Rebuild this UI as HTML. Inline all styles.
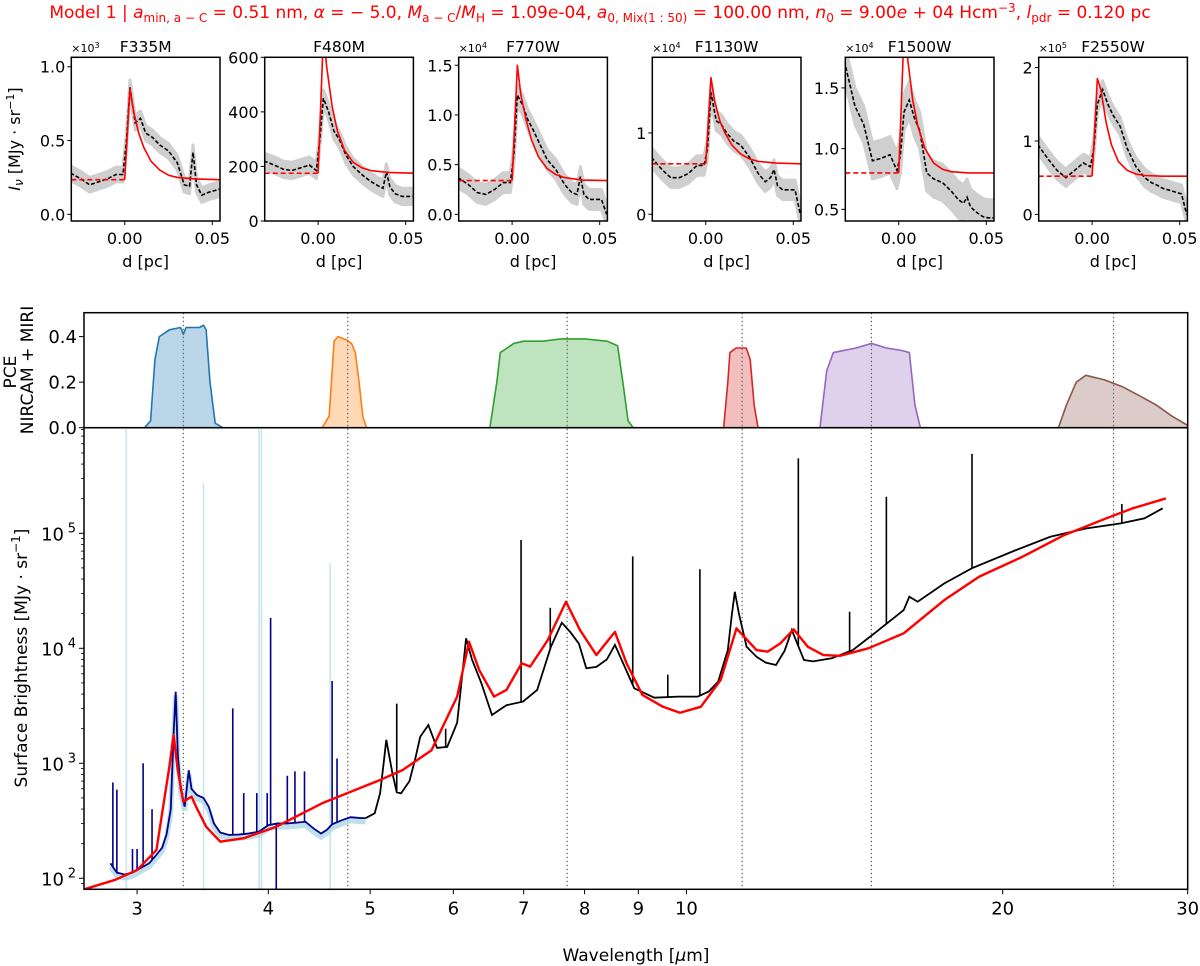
<!DOCTYPE html>
<html><head><meta charset="utf-8">
<style>
html,body{margin:0;padding:0;background:#fff;}
svg{display:block;font-family:"DejaVu Sans","Liberation Sans",sans-serif;}
</style></head>
<body>
<svg id="fig" width="1200" height="966" viewBox="0 0 1200 966" xmlns="http://www.w3.org/2000/svg">
<text x="600" y="18" text-anchor="middle" font-size="17" fill="#ff0000">Model 1 | <tspan font-style="italic">a</tspan><tspan font-size="12" dy="4">min, a − C</tspan><tspan dy="-4"> = 0.51 nm, </tspan><tspan font-style="italic">α</tspan> =  − 5.0, <tspan font-style="italic">M</tspan><tspan font-size="12" dy="4">a − C</tspan><tspan dy="-4">/</tspan><tspan font-style="italic">M</tspan><tspan font-size="12" dy="4">H</tspan><tspan dy="-4"> = 1.09e-04, </tspan><tspan font-style="italic">a</tspan><tspan font-size="12" dy="4">0, Mix(1 : 50)</tspan><tspan dy="-4"> = 100.00 nm, </tspan><tspan font-style="italic">n</tspan><tspan font-size="12" dy="4">0</tspan><tspan dy="-4"> = 9.00</tspan><tspan font-style="italic">e</tspan> + 04 Hcm<tspan font-size="12" dy="-6">−3</tspan><tspan dy="6">, </tspan><tspan font-style="italic">l</tspan><tspan font-size="12" dy="4">pdr</tspan><tspan dy="-4"> = 0.120 pc</tspan></text>
<text transform="translate(20,139) rotate(-90)" text-anchor="middle" font-size="16"><tspan font-style="italic">I</tspan><tspan font-size="12" dy="3" font-style="italic">ν</tspan><tspan dy="-3"> [MJy · sr</tspan><tspan font-size="11" dy="-6">−1</tspan><tspan dy="6">]</tspan></text>
<text transform="translate(16,372) rotate(-90)" text-anchor="middle" font-size="17">PCE</text>
<text transform="translate(33,370) rotate(-90)" text-anchor="middle" font-size="17">NIRCAM + MIRI</text>
<text transform="translate(27,658) rotate(-90)" text-anchor="middle" font-size="17">Surface Brightness  [MJy · sr<tspan font-size="12" dy="-7">−1</tspan><tspan dy="7">]</tspan></text>
<text x="636" y="961" text-anchor="middle" font-size="17">Wavelength [<tspan font-style="italic">μ</tspan>m]</text>
</svg>
<script>
// ---------- profile panel data ----------
const profD = [-0.031,-0.025,-0.02,-0.015,-0.01,-0.005,-0.001,0.001,0.003,0.006,0.009,0.012,0.016,0.02,0.025,0.03,0.034,0.037,0.039,0.041,0.044,0.048,0.051,0.054];
const obsF335M = [0.28,0.24,0.2,0.22,0.24,0.27,0.27,0.5,0.86,0.62,0.65,0.55,0.52,0.47,0.43,0.35,0.2,0.19,0.42,0.2,0.13,0.15,0.16,0.17];
const obsF480M = [220,205,190,185,195,205,185,300,450,400,330,300,240,200,170,145,130,120,180,125,100,90,90,90];
const obsF770W = [0.37,0.3,0.22,0.2,0.25,0.32,0.32,0.6,1.2,1.1,0.95,0.85,0.7,0.55,0.45,0.3,0.22,0.2,0.38,0.2,0.15,0.15,0.15,0.0];
const obsF1130W = [0.7,0.55,0.45,0.45,0.5,0.6,0.6,0.8,1.5,1.15,1.1,1.0,0.9,0.85,0.7,0.5,0.4,0.45,0.55,0.35,0.3,0.3,0.3,0.0];
const obsF1500W = [1.72,1.35,1.2,0.9,0.92,0.95,0.82,0.95,1.3,1.4,1.25,1.15,0.8,0.75,0.72,0.65,0.58,0.55,0.6,0.52,0.48,0.44,0.43,0.43];
const obsF2550W = [0.95,0.75,0.6,0.5,0.6,0.7,0.65,0.9,1.5,1.7,1.5,1.35,1.2,0.9,0.65,0.5,0.43,0.4,0.37,0.35,0.33,0.3,0.28,0.0];
const modelD = [0,0.003,0.005,0.008,0.011,0.015,0.02,0.025,0.03,0.04,0.055];
const modF335M = [0.235,0.85,0.7,0.55,0.45,0.36,0.3,0.265,0.25,0.24,0.235];
const modF480M = [175,680,560,420,330,260,215,195,185,178,175];
const modF770W = [0.34,1.5,1.2,0.95,0.75,0.58,0.46,0.4,0.37,0.345,0.34];
const modF1130W = [0.62,1.68,1.4,1.15,1.0,0.85,0.74,0.68,0.65,0.63,0.62];
const modF1500W = [0.8,1.95,1.75,1.4,1.18,1.0,0.88,0.83,0.81,0.8,0.8];
const modF2550W = [0.52,1.85,1.7,1.25,0.95,0.72,0.6,0.55,0.53,0.52,0.52];
const panelNames = ["F335M","F480M","F770W","F1130W","F1500W","F2550W"];
const panelOffsets = ["3","","4","4","4","5"];
const panelYTicks = [[0,0.5,1.0],[0,200,400,600],[0,0.5,1.0,1.5],[0,1],[0.5,1.0,1.5],[0,1,2]];
const panelYTickLabels = [["0.0","0.5","1.0"],["0","200","400","600"],["0.0","0.5","1.0","1.5"],["0","1"],["0.5","1.0","1.5"],["0","1","2"]];
const profXTicks = [0,0.05];
const profXTickLabels = ["0.00","0.05"];

// ---------- filter curves ----------
const f335Lam = [3.05,3.09,3.12,3.15,3.22,3.3,3.32,3.34,3.44,3.47,3.49,3.52,3.56,3.62];
const f335Pce = [0,0.03,0.3,0.4,0.43,0.44,0.41,0.44,0.44,0.45,0.43,0.2,0.02,0];
const f480Lam = [4.5,4.57,4.62,4.66,4.75,4.8,4.84,4.88,4.92,4.96];
const f480Pce = [0,0.05,0.38,0.4,0.385,0.37,0.33,0.2,0.05,0];
const f770Lam = [6.5,6.6,6.65,6.75,6.85,7.0,7.3,7.6,8.0,8.4,8.6,8.7,8.8,8.9];
const f770Pce = [0,0.2,0.33,0.35,0.37,0.38,0.38,0.39,0.39,0.38,0.36,0.2,0.03,0];
const f1130Lam = [10.85,10.95,11.0,11.15,11.4,11.5,11.6,11.7];
const f1130Pce = [0,0.2,0.33,0.35,0.35,0.3,0.1,0];
const f1500Lam = [13.4,13.6,13.8,14.5,15.0,15.5,16.0,16.3,16.5,16.7];
const f1500Pce = [0,0.25,0.33,0.35,0.37,0.35,0.34,0.33,0.1,0];
const f2550Lam = [22.6,23,23.5,24,25,26,27,28,29,30];
const f2550Pce = [0,0.1,0.2,0.23,0.21,0.18,0.14,0.1,0.05,0.01];
const filterCenters = [3.32,4.76,7.7,11.3,15.0,25.5];
const pceTicks = [0,0.2,0.4];
const pceTickLabels = ["0.0","0.2","0.4"];

// ---------- spectrum ----------
const nirLam = [2.83,2.87,2.92,2.97,3.02,3.08,3.13,3.17,3.2,3.23,3.25,3.265,3.28,3.30,3.33,3.36,3.38,3.42,3.47,3.51,3.55,3.6,3.67,3.75,3.83,3.92,4.0,4.08,4.17,4.26,4.34,4.42,4.49,4.55,4.6,4.7,4.79,4.88,4.95];
const nirVal = [135,112,108,112,122,135,160,185,240,400,1800,4200,1200,600,420,870,600,530,500,420,300,250,238,240,245,255,290,300,300,305,310,270,245,265,295,320,340,335,333];
const miriLam = [4.95,5.05,5.11,5.15,5.18,5.21,5.25,5.3,5.35,5.45,5.52,5.58,5.68,5.79,5.92,6.05,6.12,6.17,6.25,6.38,6.53,6.74,6.99,7.21,7.43,7.61,7.75,7.9,8.03,8.21,8.4,8.55,8.7,8.92,9.32,9.82,10.25,10.5,10.72,10.95,11.05,11.12,11.22,11.41,11.66,11.9,12.17,12.4,12.6,12.75,12.94,13.2,13.75,14.4,15.1,16.1,16.3,16.6,17.6,18.7,20.6,22.2,24.0,25.9,27.3,28.4];
const miriVal = [333,368,548,1000,1600,1200,818,560,548,700,1100,1700,2150,1360,1390,2250,6000,12200,8000,4970,2630,3200,3440,4340,10300,16700,13900,11000,6700,6900,8000,10700,7500,4490,3720,3800,3800,4200,5130,9660,20000,31000,20000,10300,8450,7500,7160,9500,14400,11000,7900,7700,8200,9660,13500,21500,28100,25400,36700,49700,71600,93300,110000,122000,135000,165000];
const modelLam = [2.67,2.86,3.0,3.13,3.22,3.25,3.28,3.32,3.38,3.42,3.49,3.6,3.79,4.07,4.5,5.11,5.37,5.72,6.05,6.21,6.35,6.56,6.74,6.97,7.1,7.38,7.68,7.92,8.21,8.55,8.77,9.08,9.5,9.86,10.32,10.78,11.16,11.66,11.95,12.28,12.65,13.05,13.5,14.0,14.9,16.1,17.6,19.0,20.9,22.9,25.1,26.6,28.6];
const modelVal = [80,97,118,176,934,1760,875,463,513,406,281,208,223,281,449,716,875,1300,3800,11400,6470,3800,4340,7410,6930,11800,25400,14400,8740,13900,7410,3930,3100,2750,3100,5300,14900,9660,9350,11000,14600,10300,8740,8600,10000,13500,26300,42000,62700,96700,135000,165000,201000];
const nirLineLam = [2.845,2.87,2.97,3.0,3.04,3.1,3.7,3.79,3.9,3.99,4.02,4.17,4.24,4.33,4.6,4.65];
const nirLineVal = [680,590,180,180,1000,400,3000,550,550,550,18400,780,850,850,5200,1100];
const miriLineLam = [5.3,5.55,5.9,6.96,7.42,8.89,9.6,10.3,12.78,14.3,15.5,18.7,25.97];
const miriLineVal = [3300,1400,2000,87500,22500,63000,5900,48700,448000,20800,208000,490000,180000];
const errLineLam = [2.93,3.47,3.92,3.94,4.58];
const errLineVal = [800000,270000,800000,800000,55000];
const specXTicks = [3,4,5,6,7,8,9,10,20,30];
const specYTicks = [100,1000,10000,100000];
const specYTickExp = ["2","3","4","5"];

const NS = "http://www.w3.org/2000/svg";
const svg = document.getElementById('fig');
function el(tag, parent, attrs){
  const e = document.createElementNS(NS, tag);
  for (const k in attrs) e.setAttribute(k, attrs[k]);
  parent.appendChild(e);
  return e;
}
function pts(xs, ys){ return xs.map((x,i)=>x.toFixed(2)+','+ys[i].toFixed(2)).join(' '); }

// ---------- profile panels ----------
const obsAll = [obsF335M,obsF480M,obsF770W,obsF1130W,obsF1500W,obsF2550W];
const modAll = [modF335M,modF480M,modF770W,modF1130W,modF1500W,modF2550W];
const panelLeft = [71.3,264.7,458.7,652.3,845.3,1038.7];
const panelYLo = [-0.045,0,-0.067,-0.083,0.404,-0.09];
const panelYHi = [1.064,600,1.58,1.93,1.752,2.14];
const bandHalf = [0.05,30,0.1,0.12,0.15,0.12];
const PT = 57.3, PB = 221, PW = 148.7, DLO = -0.0305, DHI = 0.0544;
const defs = el('defs', svg, {});
for (let p=0;p<6;p++){
  const L = panelLeft[p];
  const xs = d => L + (d-DLO)/(DHI-DLO)*PW;
  const ys = v => PB - (v-panelYLo[p])/(panelYHi[p]-panelYLo[p])*(PB-PT);
  const cp = el('clipPath', defs, {id:'clip'+p});
  el('rect', cp, {x:L, y:PT, width:PW, height:PB-PT});
  const g = el('g', svg, {});
  
  
  const pg = el('g', g, {'clip-path':'url(#clip'+p+')'});
  const obs = obsAll[p];
  const up = obs.map(v=>ys(v+bandHalf[p])), dn = obs.map(v=>ys(v-bandHalf[p]));
  const xsArr = profD.map(xs);
  const band = el('polygon', pg, {points: pts(xsArr, up)+' '+pts(xsArr.slice().reverse(), dn.slice().reverse()), fill:'#cfcfcf', stroke:'#cfcfcf', 'stroke-width':3, 'stroke-linejoin':'round'});
  
  
  const ol = el('polyline', pg, {points: pts(xsArr, obs.map(ys)), fill:'none', stroke:'#000', 'stroke-width':1.6, 'stroke-dasharray':'4,2'});
  
  
  const mod = modAll[p];
  const md = el('line', pg, {x1:xs(DLO), y1:ys(mod[0]), x2:xs(0), y2:ys(mod[0]), stroke:'#ff0000', 'stroke-width':1.6, 'stroke-dasharray':'5,3'});
  
  
  const ml = el('polyline', pg, {points: pts(modelD.map(xs), mod.map(ys)), fill:'none', stroke:'#ff0000', 'stroke-width':1.6, 'stroke-linejoin':'round'});
  
  
  const fr = el('rect', g, {x:L, y:PT, width:PW, height:PB-PT, fill:'none', stroke:'#000', 'stroke-width':1.5});
  
  
  profXTicks.forEach((t,i)=>{
    el('line', g, {x1:xs(t), x2:xs(t), y1:PB, y2:PB+4, stroke:'#000', 'stroke-width':1});
    const tl = el('text', g, {x:xs(t), y:PB+23, 'text-anchor':'middle', 'font-size':16});
    tl.textContent = profXTickLabels[i];
    
    
  });
  panelYTicks[p].forEach((t,i)=>{
    el('line', g, {x1:L-4, x2:L, y1:ys(t), y2:ys(t), stroke:'#000', 'stroke-width':1});
    const tl = el('text', g, {x:L-6, y:ys(t)+6, 'text-anchor':'end', 'font-size':16});
    tl.textContent = panelYTickLabels[p][i];
    
    
  });
  const xl = el('text', g, {x:L+PW/2, y:267, 'text-anchor':'middle', 'font-size':16});
  xl.textContent = 'd [pc]';
  
  
  const tt = el('text', g, {x:L+PW/2, y:52, 'text-anchor':'middle', 'font-size':15.5});
  tt.textContent = panelNames[p];
  
  
  if (panelOffsets[p]){
    const ot = el('text', g, {x:L, y:52, 'font-size':11});
    ot.textContent = '×10';
    const sp = el('tspan', ot, {'font-size':8, dy:-4});
    sp.textContent = panelOffsets[p];
    
    
  }
}

// ---------- bottom panels ----------
const BL = 84, BR = 1187.7, PCT = 312.7, MID = 427.7, BB = 889.3;
const LOG0 = 0.4266, DEC = 1050.6;
const X = lam => BL + (Math.log10(lam)-LOG0)*DEC;
const YP = v => MID - v/0.505*(MID-PCT);
const YS = v => 533.3 - (Math.log10(v)-5)*115;
const cpP = el('clipPath', defs, {id:'clipP'}); el('rect', cpP, {x:BL, y:PCT, width:BR-BL, height:MID-PCT});
const cpS = el('clipPath', defs, {id:'clipS'}); el('rect', cpS, {x:BL, y:MID, width:BR-BL, height:BB-MID});

const pceG = el('g', svg, {'clip-path':'url(#clipP)'});


const fLams = [f335Lam,f480Lam,f770Lam,f1130Lam,f1500Lam,f2550Lam];
const fPces = [f335Pce,f480Pce,f770Pce,f1130Pce,f1500Pce,f2550Pce];
const fCols = ['#1f77b4','#ff7f0e','#2ca02c','#d62728','#9467bd','#8c564b'];
fLams.forEach((lam,i)=>{
  const xs = lam.map(X), ys = fPces[i].map(YP);
  const fa = el('polygon', pceG, {points: pts(xs,ys)+' '+xs[xs.length-1]+','+MID+' '+xs[0]+','+MID, fill:fCols[i], 'fill-opacity':0.3, stroke:'none'});
  
  
  const fl = el('polyline', pceG, {points: pts(xs,ys), fill:'none', stroke:fCols[i], 'stroke-width':1.6, 'stroke-linejoin':'round'});
  
  
});

filterCenters.forEach(c=>{
  const dl = el('line', svg, {x1:X(c), x2:X(c), y1:PCT, y2:BB, stroke:'#666', 'stroke-width':1.2, 'stroke-dasharray':'1.5,2.5'});
  
  
});

const sG = el('g', svg, {'clip-path':'url(#clipS)'});


function interp(lamArr, valArr, l){
  for (let i=0;i<lamArr.length-1;i++){
    if (l>=lamArr[i] && l<=lamArr[i+1]){
      const t=(Math.log10(l)-Math.log10(lamArr[i]))/(Math.log10(lamArr[i+1])-Math.log10(lamArr[i]));
      return Math.pow(10, Math.log10(valArr[i])*(1-t)+Math.log10(valArr[i+1])*t);
    }
  }
  return valArr[valArr.length-1];
}
errLineLam.forEach((l,i)=>{
  const e = el('line', sG, {x1:X(l), x2:X(l), y1:BB, y2:YS(errLineVal[i]), stroke:'#add8e6', 'stroke-width':1.5, 'stroke-opacity':0.7});
  
  
});
const eb = el('polyline', sG, {points: pts(nirLam.map(X), nirVal.map(v=>YS(v*0.93))), fill:'none', stroke:'#add8e6', 'stroke-width':5, 'stroke-opacity':0.8});


const nl = el('polyline', sG, {points: pts(nirLam.map(X), nirVal.map(YS)), fill:'none', stroke:'#00008b', 'stroke-width':1.8});


nirLineLam.forEach((l,i)=>{
  const sp = el('line', sG, {x1:X(l), x2:X(l), y1:YS(interp(nirLam,nirVal,l)), y2:YS(nirLineVal[i]), stroke:'#00008b', 'stroke-width':1.6});
  
  
});
const dip = el('line', sG, {x1:X(4.07), x2:X(4.07), y1:YS(300), y2:BB, stroke:'#00008b', 'stroke-width':1.6});


const ml = el('polyline', sG, {points: pts(miriLam.map(X), miriVal.map(YS)), fill:'none', stroke:'#000', 'stroke-width':1.8});


miriLineLam.forEach((l,i)=>{
  const sp = el('line', sG, {x1:X(l), x2:X(l), y1:YS(interp(miriLam,miriVal,l)), y2:YS(miriLineVal[i]), stroke:'#000', 'stroke-width':1.6});
  
  
});
const mod = el('polyline', sG, {points: pts(modelLam.map(X), modelVal.map(YS)), fill:'none', stroke:'#ff0000', 'stroke-width':2.4, 'stroke-linejoin':'round'});



const f1 = el('rect', svg, {x:BL, y:PCT, width:BR-BL, height:MID-PCT, fill:'none', stroke:'#000', 'stroke-width':1.5});


const f2 = el('rect', svg, {x:BL, y:MID, width:BR-BL, height:BB-MID, fill:'none', stroke:'#000', 'stroke-width':1.5});



pceTicks.forEach((t,i)=>{
  el('line', svg, {x1:BL-5, x2:BL, y1:YP(t), y2:YP(t), stroke:'#000', 'stroke-width':1});
  const tl = el('text', svg, {x:BL-7, y:YP(t)+6.5, 'text-anchor':'end', 'font-size':18});
  tl.textContent = pceTickLabels[i];
  
  
});
specYTicks.forEach((t,i)=>{
  el('line', svg, {x1:BL-5, x2:BL, y1:YS(t), y2:YS(t), stroke:'#000', 'stroke-width':1});
  const tl = el('text', svg, {x:BL-20, y:YS(t)+7, 'text-anchor':'end', 'font-size':18});
  tl.textContent = '10';
  
  
  const ex = el('text', svg, {x:BL-8, y:YS(t)-1, 'text-anchor':'end', 'font-size':13});
  ex.textContent = specYTickExp[i];
  
  
});
for (let k=1;k<=5;k++){ for (let m=2;m<=9;m++){
  const v = m*Math.pow(10,k); const y = YS(v);
  if (y>MID && y<BB) el('line', svg, {x1:BL-3, x2:BL, y1:y, y2:y, stroke:'#000', 'stroke-width':0.8});
}}
specXTicks.forEach(t=>{
  el('line', svg, {x1:X(t), x2:X(t), y1:BB, y2:BB+5, stroke:'#000', 'stroke-width':1});
  const tl = el('text', svg, {x:X(t), y:BB+25, 'text-anchor':'middle', 'font-size':18});
  tl.textContent = String(t);
  
  
});
</script>
</body></html>
